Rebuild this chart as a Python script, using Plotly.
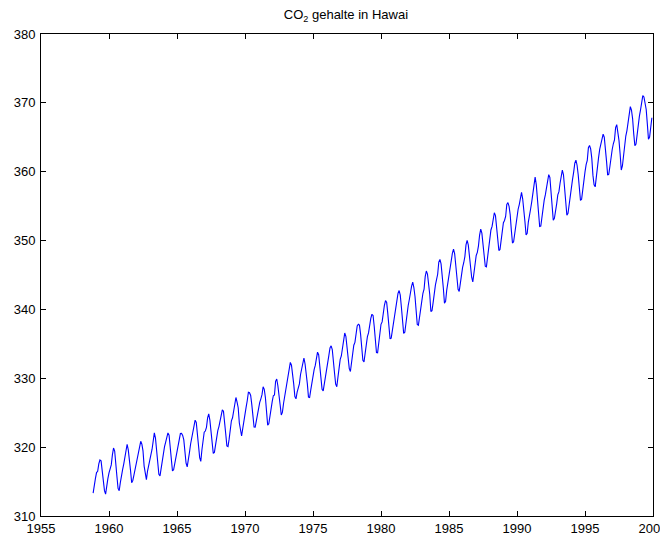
import plotly.graph_objects as go

# Monthly CO2 (ppm), Mauna Loa, starting Nov 1958
start_year = 1958
start_month = 11

co2_1958 = [313.33, 314.67]
co2_1959 = [315.42, 316.31, 316.50, 317.56, 318.13, 318.00, 316.39, 314.65, 313.68, 313.18, 314.66, 315.43]
co2_1960 = [316.27, 316.81, 317.42, 318.87, 319.87, 319.43, 318.01, 315.74, 314.00, 313.68, 314.84, 316.03]
co2_1961 = [316.73, 317.54, 318.38, 319.31, 320.42, 319.61, 318.42, 316.63, 314.83, 315.16, 315.94, 316.85]
co2_1962 = [317.78, 318.40, 319.53, 320.42, 320.85, 320.45, 319.45, 317.25, 316.11, 315.27, 316.53, 317.53]
co2_1963 = [318.58, 318.92, 319.70, 321.22, 322.08, 321.31, 319.58, 317.61, 316.05, 315.83, 316.91, 318.20]
co2_1964 = [319.41, 320.07, 320.74, 321.40, 322.06, 321.73, 320.27, 318.54, 316.54, 316.71, 317.53, 318.55]
co2_1965 = [319.27, 320.28, 320.73, 321.97, 322.00, 321.71, 321.05, 318.71, 317.66, 317.14, 318.70, 319.25]
co2_1966 = [320.46, 321.43, 322.23, 323.54, 323.91, 323.59, 322.24, 320.20, 318.48, 317.94, 319.63, 320.87]
co2_1967 = [322.17, 322.34, 322.88, 324.25, 324.83, 323.93, 322.38, 320.76, 319.10, 319.24, 320.56, 321.80]
co2_1968 = [322.40, 322.99, 323.73, 324.86, 325.40, 325.20, 323.98, 321.95, 320.18, 320.09, 321.16, 322.74]
co2_1969 = [323.83, 324.26, 325.47, 326.50, 327.21, 326.54, 325.72, 323.50, 322.22, 321.62, 322.69, 323.95]
co2_1970 = [324.89, 325.82, 326.77, 327.97, 327.91, 327.50, 326.18, 324.53, 322.93, 322.90, 323.85, 324.96]
co2_1971 = [326.01, 326.51, 327.01, 327.62, 328.76, 328.40, 327.20, 325.27, 323.20, 323.40, 324.63, 325.85]
co2_1972 = [326.60, 327.47, 327.58, 329.56, 329.90, 328.92, 327.88, 326.16, 324.68, 325.04, 326.34, 327.39]
co2_1973 = [328.37, 329.40, 330.14, 331.33, 332.31, 331.90, 330.70, 329.15, 327.35, 327.02, 327.99, 328.48]
co2_1974 = [329.18, 330.55, 331.32, 332.48, 332.92, 332.08, 331.01, 329.23, 327.27, 327.21, 328.29, 329.41]
co2_1975 = [330.23, 331.25, 331.87, 333.14, 333.80, 333.43, 331.73, 329.90, 328.40, 328.17, 329.32, 330.59]
co2_1976 = [331.58, 332.39, 333.33, 334.41, 334.71, 334.17, 332.89, 330.77, 329.14, 328.78, 330.14, 331.52]
co2_1977 = [332.75, 333.24, 334.53, 335.90, 336.57, 336.10, 334.76, 332.59, 331.42, 330.98, 332.24, 333.68]
co2_1978 = [334.80, 335.22, 336.47, 337.59, 337.84, 337.72, 336.37, 334.51, 332.60, 332.38, 333.75, 334.78]
co2_1979 = [336.05, 336.59, 337.79, 338.71, 339.30, 339.12, 337.56, 335.92, 333.75, 333.70, 335.12, 336.56]
co2_1980 = [337.84, 338.19, 339.91, 340.60, 341.29, 341.00, 339.39, 337.43, 335.72, 335.84, 336.93, 338.04]
co2_1981 = [339.06, 340.30, 341.21, 342.33, 342.74, 342.08, 340.32, 338.26, 336.52, 336.68, 338.19, 339.44]
co2_1982 = [340.57, 341.44, 342.53, 343.39, 343.96, 343.18, 341.88, 339.65, 337.81, 337.69, 339.09, 340.32]
co2_1983 = [341.20, 342.35, 342.93, 344.77, 345.58, 345.14, 343.81, 342.21, 339.69, 339.82, 340.98, 342.82]
co2_1984 = [343.52, 344.33, 345.11, 346.88, 347.25, 346.62, 345.22, 343.11, 340.90, 341.18, 342.80, 344.04]
co2_1985 = [344.79, 345.82, 347.25, 348.17, 348.74, 348.07, 346.38, 344.51, 342.92, 342.62, 344.06, 345.38]
co2_1986 = [346.11, 346.78, 347.68, 349.37, 350.03, 349.37, 347.76, 345.73, 344.68, 343.99, 345.48, 346.72]
co2_1987 = [347.84, 348.29, 349.23, 350.80, 351.66, 351.07, 349.33, 347.92, 346.27, 346.18, 347.64, 348.78]
co2_1988 = [350.25, 351.54, 352.05, 353.41, 354.04, 353.62, 352.22, 350.27, 348.55, 348.72, 349.91, 351.18]
co2_1989 = [352.60, 352.92, 353.53, 355.26, 355.52, 354.97, 353.75, 351.52, 349.64, 349.83, 351.14, 352.37]
co2_1990 = [353.50, 354.55, 355.23, 356.04, 357.00, 356.07, 354.67, 352.76, 350.82, 351.04, 352.69, 354.07]
co2_1991 = [354.59, 355.63, 357.03, 358.48, 359.22, 358.12, 356.06, 353.92, 352.05, 352.11, 353.64, 354.89]
co2_1992 = [355.88, 356.63, 357.72, 359.07, 359.58, 359.17, 356.94, 354.92, 352.94, 353.23, 354.09, 355.33]
co2_1993 = [356.63, 357.10, 358.32, 359.41, 360.23, 359.55, 357.53, 355.48, 353.67, 353.95, 355.30, 356.78]
co2_1994 = [358.34, 358.89, 359.95, 361.25, 361.67, 360.94, 359.55, 357.49, 355.84, 356.00, 357.59, 359.05]
co2_1995 = [359.98, 361.03, 361.66, 363.48, 363.82, 363.30, 361.94, 359.50, 358.11, 357.80, 359.61, 360.74]
co2_1996 = [362.09, 363.29, 364.06, 364.76, 365.45, 365.01, 363.70, 361.54, 359.51, 359.65, 360.80, 362.38]
co2_1997 = [363.23, 364.06, 364.61, 366.40, 366.84, 365.68, 364.52, 362.57, 360.24, 360.83, 362.49, 364.34]
co2_1998 = [365.18, 365.98, 367.05, 368.67, 369.46, 368.96, 367.72, 365.49, 363.79, 364.02, 365.56, 366.88]
co2_1999 = [368.07, 368.99, 369.79, 371.06, 370.86, 370.12, 369.04, 366.95, 364.72, 365.03, 366.39, 367.84]

x_ticks = [1955, 1960, 1965, 1970, 1975, 1980, 1985, 1990, 1995, 2000]
y_ticks = [310, 320, 330, 340, 350, 360, 370, 380]
title_text = "CO<sub>2</sub> gehalte in Hawai"

series = (co2_1958 + co2_1959 + co2_1960 + co2_1961 + co2_1962 + co2_1963 + co2_1964
          + co2_1965 + co2_1966 + co2_1967 + co2_1968 + co2_1969 + co2_1970 + co2_1971
          + co2_1972 + co2_1973 + co2_1974 + co2_1975 + co2_1976 + co2_1977 + co2_1978
          + co2_1979 + co2_1980 + co2_1981 + co2_1982 + co2_1983 + co2_1984 + co2_1985
          + co2_1986 + co2_1987 + co2_1988 + co2_1989 + co2_1990 + co2_1991 + co2_1992
          + co2_1993 + co2_1994 + co2_1995 + co2_1996 + co2_1997 + co2_1998 + co2_1999)

t = [start_year + (start_month - 1 + i) / 12 for i in range(len(series))]

fig = go.Figure()
fig.add_trace(go.Scatter(x=t, y=series, mode="lines",
                         line=dict(color="#0000ff", width=1.1), showlegend=False))

font = dict(family="Liberation Sans, Arial, sans-serif", size=13, color="black")
axis_common = dict(showgrid=False, zeroline=False, showline=True, linecolor="black",
                   linewidth=1, mirror="ticks", ticks="inside", ticklen=5,
                   tickcolor="black", tickwidth=1, tickfont=font, automargin=False)

fig.update_layout(
    width=660, height=529,
    paper_bgcolor="white", plot_bgcolor="white",
    margin=dict(l=33, r=15, t=26, b=21),
    title=dict(text=title_text, x=0.512, xanchor="center", y=0.987, yanchor="middle",
               font=dict(family="Liberation Sans, Arial, sans-serif", size=13, color="black")),
    xaxis=dict(range=[1955, 2000], tickvals=x_ticks, ticklabelstandoff=0, **axis_common),
    yaxis=dict(range=[310, 380], tickvals=y_ticks, ticklabelstandoff=2, **axis_common),
)

fig.write_html("out.html")
